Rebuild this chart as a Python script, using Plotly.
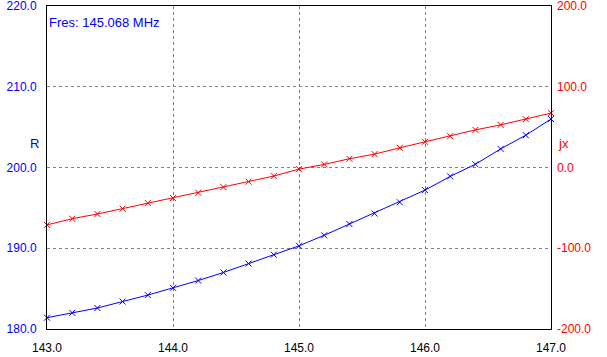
import plotly.graph_objects as go

freq = [143.0, 143.2, 143.4, 143.6, 143.8, 144.0, 144.2, 144.4, 144.6, 144.8, 145.0,
        145.2, 145.4, 145.6, 145.8, 146.0, 146.2, 146.4, 146.6, 146.8, 147.0]
r_vals = [181.4, 182.0, 182.6, 183.4, 184.2, 185.1, 186.0, 187.0, 188.1, 189.2, 190.3,
          191.6, 193.0, 194.3, 195.7, 197.2, 198.9, 200.4, 202.3, 204.0, 206.0]
jx_vals = [-71.1, -63.4, -57.6, -51.0, -44.0, -37.8, -31.2, -24.2, -17.6, -10.6, -2.0,
           3.8, 10.8, 16.6, 24.4, 31.8, 38.8, 46.6, 52.8, 59.9, 67.3]
x_ticks = [143, 144, 145, 146, 147]
x_labels = ["143.0", "144.0", "145.0", "146.0", "147.0"]
r_ticks = [180, 190, 200, 210, 220]
r_labels = ["180.0", "190.0", "200.0", "210.0", "220.0"]
jx_ticks = [-200, -100, 0, 100, 200]
jx_labels = ["-200.0", "-100.0", "0.0", "100.0", "200.0"]
fres_text = "Fres: 145.068 MHz"

FONT = "Liberation Sans, Arial, sans-serif"
GRID = dict(showgrid=True, gridcolor="#808080", griddash="3px,3px", gridwidth=1)

fig = go.Figure()
fig.add_trace(go.Scatter(
    x=freq, y=r_vals, mode="lines+markers", yaxis="y",
    line=dict(color="#0000FF", width=1),
    marker=dict(symbol="x-thin", size=6, line=dict(color="#0000FF", width=1)),
    showlegend=False, cliponaxis=False))
fig.add_trace(go.Scatter(
    x=freq, y=jx_vals, mode="lines+markers", yaxis="y2",
    line=dict(color="#FF0000", width=1),
    marker=dict(symbol="x-thin", size=6, line=dict(color="#FF0000", width=1)),
    showlegend=False, cliponaxis=False))

fig.update_layout(
    width=607, height=357,
    margin=dict(l=47, r=56, t=6, b=28, autoexpand=False),
    paper_bgcolor="white", plot_bgcolor="white",
    font=dict(family=FONT, size=12, color="black"),
    xaxis=dict(range=[143, 147], tickvals=x_ticks, ticktext=x_labels, **GRID,
               showline=True, linecolor="black", linewidth=1, mirror=True,
               zeroline=False, ticks="", ticklabeloverflow="allow",
               ticklabelstandoff=8,
               tickfont=dict(color="black", size=12)),
    yaxis=dict(range=[180, 220], tickvals=r_ticks, ticktext=r_labels, **GRID,
               showline=True, linecolor="black", linewidth=1, mirror=True,
               zeroline=False, ticks="", ticklabelstandoff=7,
               ticklabeloverflow="allow",
               tickfont=dict(color="#0000FF", size=12)),
    yaxis2=dict(range=[-200, 200], tickvals=jx_ticks, ticktext=jx_labels,
                overlaying="y", side="right", showgrid=False,
                zeroline=False, ticks="", ticklabelstandoff=5,
                ticklabeloverflow="allow",
                tickfont=dict(color="#FF0000", size=12)),
    annotations=[
        dict(text="R", xref="paper", yref="paper", x=-0.025, y=0.575,
             xanchor="center", yanchor="middle", showarrow=False,
             font=dict(color="#0000FF", size=13, family=FONT)),
        dict(text="jx", xref="paper", yref="paper", x=1.025, y=0.575,
             xanchor="center", yanchor="middle", showarrow=False,
             font=dict(color="#FF0000", size=13, family=FONT)),
        dict(text=fres_text, xref="paper", yref="paper", x=0.0, y=0.95,
             xanchor="left", yanchor="middle", showarrow=False,
             font=dict(color="#0000FF", size=13, family=FONT)),
    ],
)

fig.write_html("out.html", config={"displayModeBar": False},
               post_script="document.body.style.margin='0';")
